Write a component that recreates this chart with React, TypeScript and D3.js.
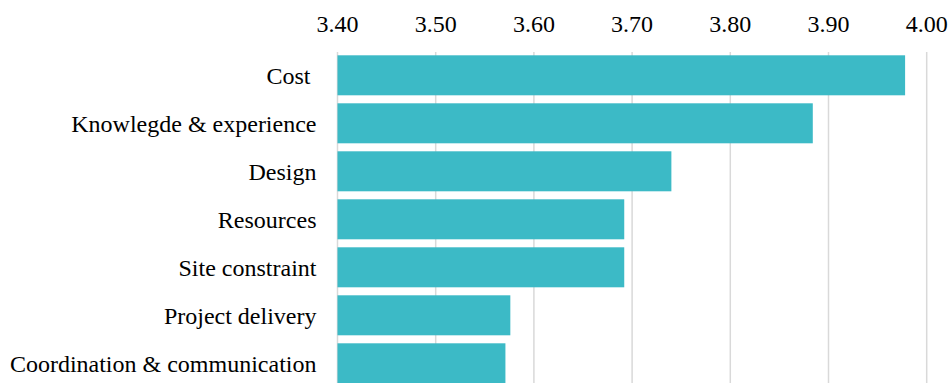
import React from "react";
import * as d3 from "d3";

const categories = [
  "Cost ",
  "Knowlegde & experience",
  "Design",
  "Resources",
  "Site constraint",
  "Project delivery",
  "Coordination & communication",
];
const values = [3.978, 3.884, 3.74, 3.692, 3.692, 3.576, 3.571];
const ticks = [3.4, 3.5, 3.6, 3.7, 3.8, 3.9, 4.0];

export default function App() {
  const W = 952;
  const H = 383;
  const x = d3.scaleLinear().domain([3.4, 4.0]).range([337.5, 926.7]);
  const y = d3
    .scaleBand<string>()
    .domain(categories)
    .range([51.3, 51.3 + 48 * 7])
    .paddingInner(8 / 48)
    .paddingOuter(4 / 48);
  const font = "Liberation Serif, Times New Roman, serif";
  return (
    <svg
      width={W}
      height={H}
      style={{ position: "absolute", left: 0, top: 0, display: "block" }}
    >
      <rect width={W} height={H} fill="#fff" />
      {ticks.map((t) => (
        <g key={t}>
          <line
            x1={x(t)}
            x2={x(t)}
            y1={52}
            y2={H}
            stroke="#d9d9d9"
            strokeWidth={1.5}
          />
          <text
            x={x(t)}
            y={31.7}
            textAnchor="middle"
            fontFamily={font}
            fontSize={24}
            fill="#000"
          >
            {t.toFixed(2)}
          </text>
        </g>
      ))}
      {categories.map((c, i) => (
        <g key={c}>
          <rect
            x={x(3.4)}
            y={y(c)!}
            width={x(values[i]) - x(3.4)}
            height={y.bandwidth()}
            fill="#3cbac6"
          />
          <text
            x={x(3.4) - 21}
            y={y(c)! + y.bandwidth() / 2}
            dy="0.35em"
            textAnchor="end"
            fontFamily={font}
            fontSize={24}
            fill="#000"
            style={{ whiteSpace: "pre" }}
          >
            {c}
          </text>
        </g>
      ))}
    </svg>
  );
}
